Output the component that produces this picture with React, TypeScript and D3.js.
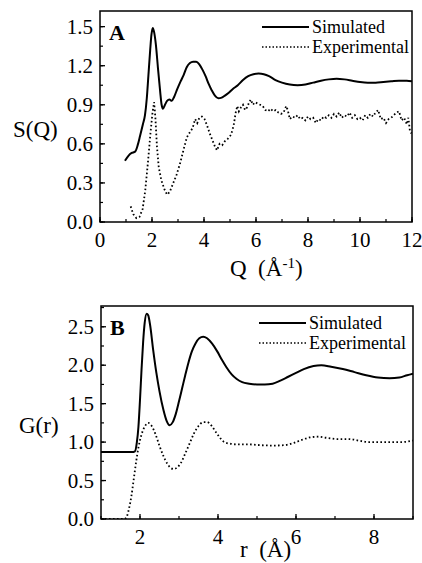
import React from 'react';
import * as d3 from 'd3';

// panel A, S(Q)
const sqSimQ = [0.96, 1.1, 1.22, 1.35, 1.45, 1.54, 1.65, 1.73, 1.8, 1.86, 1.93, 1.98, 2.03, 2.08, 2.15, 2.23, 2.31, 2.37, 2.42, 2.5, 2.58, 2.67, 2.76, 2.85, 2.97, 3.1, 3.22, 3.34, 3.46, 3.58, 3.7, 3.82, 3.94, 4.06, 4.18, 4.3, 4.42, 4.55, 4.68, 4.8, 4.94, 5.1, 5.3, 5.5, 5.7, 5.9, 6.1, 6.3, 6.5, 6.75, 7.0, 7.3, 7.6, 7.9, 8.2, 8.5, 8.8, 9.1, 9.4, 9.7, 10.0, 10.3, 10.6, 10.9, 11.2, 11.5, 11.8, 12.0];
const sqSimS = [0.47, 0.51, 0.53, 0.54, 0.59, 0.66, 0.75, 0.82, 0.95, 1.12, 1.32, 1.44, 1.49, 1.46, 1.36, 1.18, 1.01, 0.9, 0.87, 0.9, 0.93, 0.94, 0.93, 0.96, 1.02, 1.08, 1.13, 1.19, 1.22, 1.23, 1.23, 1.21, 1.17, 1.12, 1.06, 1.01, 0.97, 0.95, 0.955, 0.97, 0.99, 1.02, 1.05, 1.09, 1.12, 1.135, 1.14, 1.135, 1.12, 1.09, 1.07, 1.055, 1.05, 1.055, 1.07, 1.085, 1.095, 1.1, 1.095, 1.085, 1.075, 1.07, 1.07, 1.075, 1.08, 1.085, 1.085, 1.08];

const sqExpQ = [1.18, 1.28, 1.4, 1.52, 1.64, 1.74, 1.84, 1.94, 2.02, 2.08, 2.13, 2.19, 2.26, 2.36, 2.48, 2.58, 2.68, 2.8, 2.94, 3.08, 3.22, 3.34, 3.46, 3.56, 3.66, 3.74, 3.82, 3.92, 4.02, 4.12, 4.22, 4.32, 4.42, 4.5, 4.6, 4.7, 4.8, 4.92, 5.04, 5.14, 5.22, 5.28, 5.34, 5.42, 5.5, 5.58, 5.66, 5.74, 5.8, 5.88, 5.96, 6.06, 6.16, 6.26, 6.36, 6.46, 6.56, 6.66, 6.76, 6.86, 6.96, 7.06, 7.16, 7.22, 7.3, 7.4, 7.5, 7.6, 7.7, 7.8, 7.9, 8.0, 8.1, 8.2, 8.3, 8.4, 8.5, 8.6, 8.7, 8.8, 8.9, 9.0, 9.1, 9.2, 9.3, 9.4, 9.5, 9.6, 9.7, 9.8, 9.9, 10.0, 10.1, 10.2, 10.3, 10.4, 10.5, 10.6, 10.7, 10.8, 10.9, 11.0, 11.1, 11.2, 11.3, 11.4, 11.5, 11.6, 11.7, 11.8, 11.86, 11.92, 11.98];
const sqExpS = [0.12, 0.06, 0.03, 0.04, 0.1, 0.24, 0.45, 0.68, 0.84, 0.92, 0.8, 0.58, 0.42, 0.32, 0.25, 0.21, 0.23, 0.29, 0.36, 0.45, 0.56, 0.65, 0.69, 0.72, 0.79, 0.76, 0.8, 0.81, 0.79, 0.74, 0.68, 0.63, 0.58, 0.55, 0.6, 0.59, 0.62, 0.64, 0.67, 0.74, 0.84, 0.89, 0.85, 0.88, 0.9, 0.86, 0.88, 0.92, 0.94, 0.9, 0.92, 0.91, 0.9, 0.89, 0.86, 0.85, 0.87, 0.85, 0.86, 0.84, 0.83, 0.84, 0.89, 0.86, 0.79, 0.81, 0.8, 0.82, 0.79, 0.8, 0.78, 0.81, 0.79, 0.8, 0.76, 0.79, 0.78, 0.81, 0.8, 0.82, 0.8, 0.83, 0.81, 0.84, 0.8, 0.82, 0.81, 0.84, 0.8, 0.82, 0.79, 0.8, 0.78, 0.82, 0.8, 0.83, 0.81, 0.84, 0.86, 0.79, 0.8, 0.76, 0.79, 0.8, 0.82, 0.84, 0.85, 0.78, 0.8, 0.75, 0.8, 0.7, 0.68];

// panel B, G(r)
const grSimR = [1.0, 1.8, 1.87, 1.92, 1.96, 2.0, 2.04, 2.08, 2.12, 2.17, 2.21, 2.26, 2.34, 2.42, 2.5, 2.6, 2.68, 2.76, 2.84, 2.92, 3.0, 3.08, 3.16, 3.24, 3.33, 3.42, 3.52, 3.62, 3.72, 3.85, 3.98, 4.1, 4.22, 4.35, 4.48, 4.62, 4.8, 5.0, 5.2, 5.4, 5.6, 5.8, 6.0, 6.2, 6.45, 6.65, 6.9, 7.2, 7.5, 7.8, 8.1, 8.4, 8.65, 8.85, 9.0];
const grSimG = [0.87, 0.87, 0.88, 1.0, 1.2, 1.55, 1.95, 2.3, 2.55, 2.67, 2.65, 2.52, 2.19, 1.9, 1.66, 1.42, 1.28, 1.22, 1.26, 1.37, 1.53, 1.7, 1.87, 2.03, 2.18, 2.28, 2.35, 2.37, 2.35, 2.28, 2.18, 2.07, 1.97, 1.88, 1.82, 1.78, 1.76, 1.75, 1.75, 1.76, 1.8, 1.85, 1.9, 1.95, 1.99, 2.0, 1.98, 1.95, 1.91, 1.87, 1.84, 1.83, 1.84, 1.87, 1.89];

const grExpR = [1.0, 1.6, 1.66, 1.72, 1.78, 1.84, 1.9, 1.96, 2.04, 2.12, 2.21, 2.3, 2.4, 2.5, 2.6, 2.7, 2.8, 2.87, 2.95, 3.05, 3.15, 3.27, 3.38, 3.5, 3.62, 3.72, 3.84, 3.96, 4.06, 4.16, 4.3, 4.5, 4.8, 5.1, 5.4, 5.7, 5.95, 6.15, 6.35, 6.55, 6.8, 7.05, 7.35, 7.6, 7.85, 8.1, 8.4, 8.7, 9.0];
const grExpG = [0.0, 0.0, 0.03, 0.14, 0.3, 0.52, 0.74, 0.93, 1.1, 1.2, 1.25, 1.21, 1.1, 0.95, 0.82, 0.72, 0.66, 0.65, 0.67, 0.73, 0.84, 0.98, 1.11, 1.21, 1.26, 1.26, 1.21, 1.12, 1.05, 1.0, 0.98, 0.97, 0.97, 0.96, 0.955, 0.96, 0.99, 1.03, 1.06, 1.07, 1.055, 1.04, 1.04, 1.02, 1.0, 1.0, 1.0, 1.0, 1.02];

const sqXTicks = [0, 2, 4, 6, 8, 10, 12];
const sqYTicks = [0.0, 0.3, 0.6, 0.9, 1.2, 1.5];
const grXTicks = [2, 4, 6, 8];
const grYTicks = [0.0, 0.5, 1.0, 1.5, 2.0, 2.5];
const legendLabels = ['Simulated', 'Experimental'];

const FONT = 'Liberation Serif, Times New Roman, Times, serif';

type PanelProps = {
  left: number; right: number; top: number; bottom: number;
  xDomain: [number, number]; yDomain: [number, number];
  xTicks: number[]; xMinorStep: number; yTicks: number[]; yMinorStep: number;
  sim: [number[], number[]]; exp: [number[], number[]];
  expSmooth: boolean;
  letter: string;
  legendX: number; legendY: number;
};

function Panel(p: PanelProps) {
  const x = d3.scaleLinear().domain(p.xDomain).range([p.left, p.right]);
  const y = d3.scaleLinear().domain(p.yDomain).range([p.bottom, p.top]);

  const simPts = p.sim[0].map((v, i) => [v, p.sim[1][i]] as [number, number]);
  const expPts = p.exp[0].map((v, i) => [v, p.exp[1][i]] as [number, number]);
  const simLine = d3.line<[number, number]>().x(d => x(d[0])).y(d => y(d[1])).curve(d3.curveMonotoneX);
  const expLine = d3.line<[number, number]>().x(d => x(d[0])).y(d => y(d[1]))
    .curve(p.expSmooth ? d3.curveMonotoneX : d3.curveLinear);

  const xMinor = d3.range(Math.ceil(p.xDomain[0] / p.xMinorStep) * p.xMinorStep, p.xDomain[1] + 1e-6, p.xMinorStep);
  const yMinor = d3.range(0, p.yDomain[1], p.yMinorStep);

  return (
    <g style={{ fontFamily: FONT }}>
      <defs>
        <clipPath id={'clip' + p.letter}>
          <rect x={p.left} y={p.top} width={p.right - p.left} height={p.bottom - p.top} />
        </clipPath>
      </defs>
      {/* ticks, inward */}
      {xMinor.map(t => (
        <line key={'xm' + t} x1={x(t)} x2={x(t)} y1={p.bottom} y2={p.bottom - 3} stroke="#000" strokeWidth={1.2} />
      ))}
      {p.xTicks.map(t => (
        <line key={'x' + t} x1={x(t)} x2={x(t)} y1={p.bottom} y2={p.bottom - 5} stroke="#000" strokeWidth={1.3} />
      ))}
      {yMinor.map(t => (
        <line key={'ym' + t} x1={p.left} x2={p.left + 3} y1={y(t)} y2={y(t)} stroke="#000" strokeWidth={1.2} />
      ))}
      {p.yTicks.map(t => (
        <line key={'y' + t} x1={p.left} x2={p.left + 5} y1={y(t)} y2={y(t)} stroke="#000" strokeWidth={1.3} />
      ))}
      {p.xTicks.map(t => (
        <text key={'xl' + t} x={x(t)} y={p.bottom + 25} textAnchor="middle" fontSize={21}>{t}</text>
      ))}
      {p.yTicks.map(t => (
        <text key={'yl' + t} x={p.left - 7} y={y(t) + 7} textAnchor="end" fontSize={21}>{t.toFixed(1)}</text>
      ))}

      <g clipPath={`url(#clip${p.letter})`}>
        <path d={simLine(simPts) || ''} fill="none" stroke="#000" strokeWidth={2} />
        <path d={expLine(expPts) || ''} fill="none" stroke="#000" strokeWidth={1.8} strokeDasharray="1.6,2.4" />
      </g>

      <rect x={p.left} y={p.top} width={p.right - p.left} height={p.bottom - p.top} fill="none" stroke="#000" strokeWidth={1.5} />

      <text x={p.left + 9} y={p.top + 29} fontSize={22} fontWeight="bold">{p.letter}</text>

      {/* legend */}
      <line x1={p.legendX} x2={p.legendX + 47} y1={p.legendY} y2={p.legendY} stroke="#000" strokeWidth={2} />
      <text x={p.legendX + 50} y={p.legendY + 6} fontSize={18}>{legendLabels[0]}</text>
      <line x1={p.legendX} x2={p.legendX + 47} y1={p.legendY + 20} y2={p.legendY + 20} stroke="#000" strokeWidth={1.6} strokeDasharray="1.5,2" />
      <text x={p.legendX + 50} y={p.legendY + 26} fontSize={18}>{legendLabels[1]}</text>
    </g>
  );
}

export default function App() {
  return (
    <svg width={422} height={563} style={{ position: 'absolute', left: 0, top: 0, background: '#fff', fontFamily: FONT }}>
      <Panel left={100} right={412} top={11} bottom={222}
        xDomain={[0, 12]} yDomain={[0, 1.62]}
        xTicks={sqXTicks} xMinorStep={1} yTicks={sqYTicks} yMinorStep={0.15}
        sim={[sqSimQ, sqSimS]} exp={[sqExpQ, sqExpS]} expSmooth={false}
        letter="A" legendX={262} legendY={27} />
      <text x={13} y={137} fontSize={23}>S(Q)</text>
      <text x={230} y={276} fontSize={23} xmlSpace="preserve">
        Q  (Å<tspan dy={-8} fontSize={15}>-1</tspan><tspan dy={8}>)</tspan>
      </text>

      <Panel left={101} right={413} top={306} bottom={519}
        xDomain={[1, 9]} yDomain={[0, 2.77]}
        xTicks={grXTicks} xMinorStep={1} yTicks={grYTicks} yMinorStep={0.25}
        sim={[grSimR, grSimG]} exp={[grExpR, grExpG]} expSmooth={true}
        letter="B" legendX={259} legendY={323} />
      <text x={19} y={433} fontSize={23}>G(r)</text>
      <text x={240} y={557} fontSize={23} xmlSpace="preserve">r  (Å)</text>
    </svg>
  );
}
